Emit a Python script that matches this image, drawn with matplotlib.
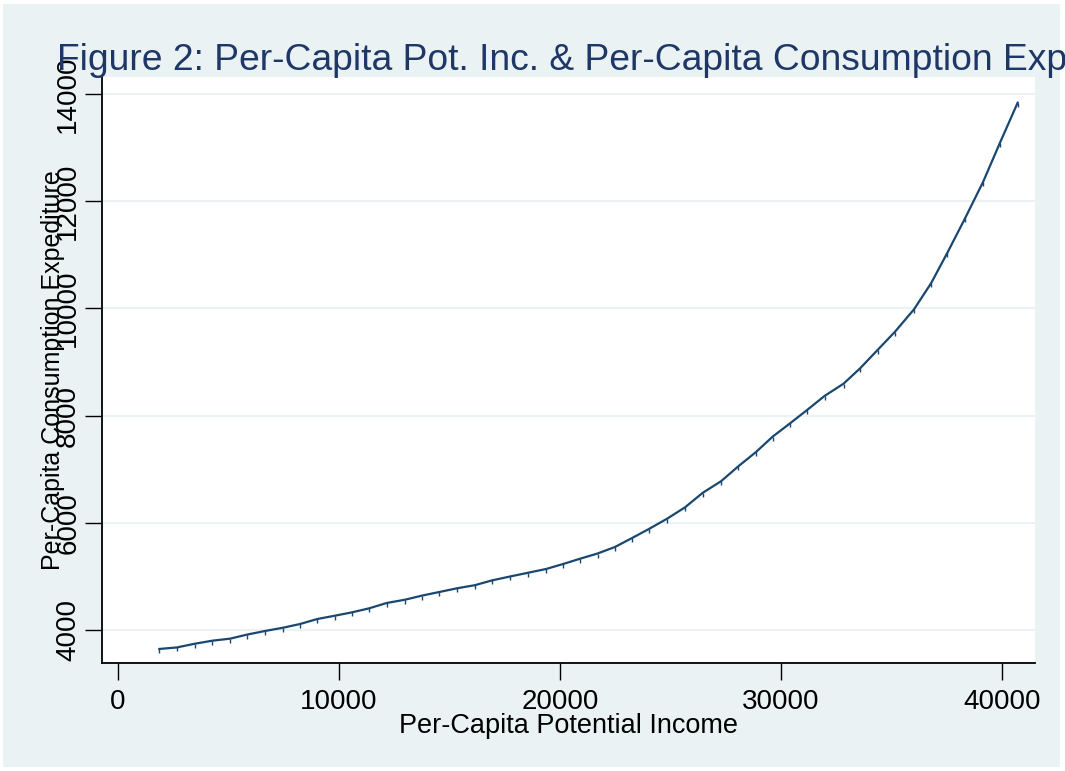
import matplotlib

matplotlib.use("Agg")
import matplotlib.pyplot as plt
from matplotlib.patches import Rectangle

# Per-capita potential income (x) and per-capita consumption expenditure (y)
income = [1870, 2660, 3480, 4270, 5070, 5820, 6650, 7480, 8240, 9020,
          9820, 10600, 11370, 12160, 12990, 13740, 14540, 15340, 16150, 16910,
          17740, 18570, 19370, 20140, 20910, 21700, 22490, 23280, 24040, 24860,
          25660, 26460, 27290, 28070, 28870, 29620, 30430, 31180, 31970, 32830,
          33580, 34370, 35160, 36020, 36790, 37530, 38330, 39150, 39910, 40710]
consumption = [3646, 3674, 3744, 3800, 3838, 3912, 3981, 4043, 4112, 4205,
               4267, 4330, 4405, 4504, 4565, 4640, 4709, 4778, 4836, 4924,
               4998, 5069, 5138, 5231, 5330, 5427, 5549, 5720, 5888, 6080,
               6289, 6560, 6776, 7054, 7321, 7606, 7862, 8104, 8366, 8595,
               8882, 9224, 9565, 9983, 10468, 11039, 11681, 12364, 13091, 13838]

x_ticks = [0, 10000, 20000, 30000, 40000]
y_ticks = [4000, 6000, 8000, 10000, 12000, 14000]

BG = "#eaf2f3"
LINE = "#1a476f"
TITLE = "#1e3766"

plt.rcParams["font.family"] = ["Liberation Sans", "DejaVu Sans"]

fig = plt.figure(figsize=(10.65, 7.71), dpi=100, facecolor="white")
fig.patches.append(Rectangle((3 / 1065, 4 / 771), 1057 / 1065, 763 / 771,
                             transform=fig.transFigure, facecolor=BG,
                             edgecolor="none", zorder=-10))

ax = fig.add_axes([102 / 1065, 108 / 771, 933 / 1065, 586 / 771])
ax.set_facecolor("white")

ax.plot(income, consumption, color=LINE, lw=1.6, marker=3, ms=3,
        mew=1.0, zorder=3)

ax.set_xlim(-724, 41495)
ax.set_ylim(3384, 14318)
ax.set_xticks(x_ticks)
ax.set_yticks(y_ticks)
ax.set_xticklabels([str(v) for v in x_ticks], fontsize=20)
ax.set_yticklabels([str(v) for v in y_ticks], fontsize=20, rotation=90,
                   va="center")
ax.tick_params(axis="both", length=12, width=1.0, color="black")
ax.tick_params(axis="x", pad=7)
ax.tick_params(axis="y", pad=3)

ax.grid(axis="y", color=BG, lw=1.5, zorder=0)
ax.set_axisbelow(True)

for side in ("top", "right"):
    ax.spines[side].set_visible(False)
for side in ("left", "bottom"):
    ax.spines[side].set_linewidth(1.3)

ax.set_xlabel("Per-Capita Potential Income", fontsize=19.5)
ax.xaxis.set_label_coords(0.5, -0.085)
ax.set_ylabel("Per-Capita Consumption Expediture", fontsize=18)
ax.yaxis.set_label_coords(-0.04, 0.5)

# the reference title runs off the right edge after "Exp"
fig.text(57 / 1065, 1 - 70 / 771,
         "Figure 2: Per-Capita Pot. Inc. & Per-Capita Consumption Exp",
         fontsize=26.8, color=TITLE, ha="left", va="baseline")

fig.savefig("out.png", dpi=100, facecolor=fig.get_facecolor())
